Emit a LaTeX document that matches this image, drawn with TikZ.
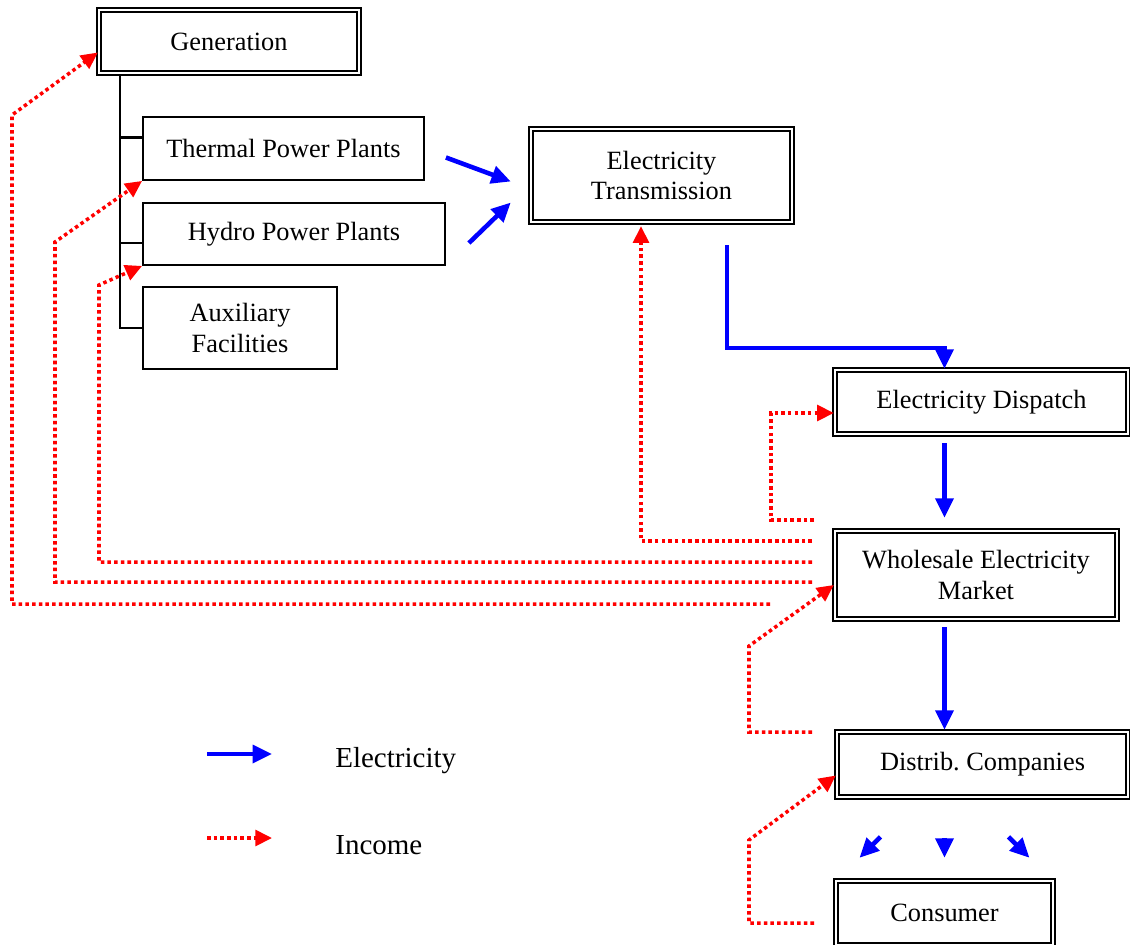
\documentclass[tikz,border=0pt]{standalone}
\usepackage{fontspec}
\setmainfont{Liberation Serif}
\usetikzlibrary{positioning,arrows.meta,calc}

\tikzset{
  box/.style={draw, line width=1.1pt, align=center, inner sep=2pt, font=\fontsize{15}{17.5}\selectfont},
  dbox/.style={box, double, line width=1.4pt, double distance=1pt},
  elec/.style={draw=blue, line width=2.6pt, -{Triangle[length=11pt,width=10pt]}},
  income/.style={draw=red, line width=2pt, dash pattern=on 2pt off 1.8pt, -{Triangle[length=9.5pt,width=9pt]}},
  tree/.style={line width=1.2pt},
  legend/.style={anchor=west, inner sep=0pt, font=\fontsize{16.5}{19}\selectfont}
}

\begin{document}
\begin{tikzpicture}[x=0.02cm,y=-0.02cm]
\useasboundingbox (0,0) rectangle (1130,944);
% boxes
\node[dbox, minimum width=5.2cm, minimum height=1.26cm] (gen) at (229,41.5) {Generation};
\node[box, minimum width=5.62cm, minimum height=1.26cm] (thermal) at (283.5,148.5) {Thermal Power Plants};
\node[box, minimum width=6.04cm, minimum height=1.24cm] (hydro) at (294,234) {Hydro Power Plants};
\node[box, minimum width=3.88cm, minimum height=1.64cm] (aux) at (240,328) {Auxiliary\\Facilities};
\node[dbox, minimum width=5.22cm, minimum height=1.86cm] (trans) at (661.5,175.5) {Electricity\\Transmission};
\node[dbox, minimum width=5.86cm, minimum height=1.28cm] (disp) at (981.5,402) {Electricity Dispatch};
\node[dbox, minimum width=5.64cm, minimum height=1.76cm] (whole) at (976,575) {Wholesale Electricity\\Market};
\node[dbox, minimum width=5.82cm, minimum height=1.30cm] (dist) at (982.5,764.5) {Distrib.\ Companies};
\node[dbox, minimum width=4.34cm, minimum height=1.28cm] (cons) at (944.5,913) {Consumer};

% generation tree
\draw[tree] ($(gen.south west)+(22,0)$) coordinate (tr) -- (tr |- aux.west) -- (aux.west);
\draw[tree] ($(thermal.west)+(0,-11)$) -- +(-21,0);
\draw[tree] ($(hydro.west)+(0,9)$) -- +(-21,0);

% electricity
\draw[elec] ($(thermal.east)+(21,9)$) -- ($(trans.west)+(-19,6)$);
\draw[elec] ($(hydro.east)+(23,9)$) -- ($(trans.west)+(-19,27)$);
\draw[elec] ($(trans.south)+(65.5,22)$) |- ($(disp.north -| cons)+(0,-21)$) -- (disp.north -| cons);
\draw[elec] ($(disp.south -| cons)+(0,8)$) -- ($(whole.north -| cons)+(0,-12)$);
\draw[elec] ($(whole.south -| cons)+(0,7)$) -- ($(dist.north -| cons)+(0,-1)$);
\draw[elec] ($(cons.north)+(-64,-43)$) -- ++(-21,21);
\draw[elec] ($(cons.north)+(0,-42)$) -- ++(0,20);
\draw[elec] ($(cons.north)+(64,-43)$) -- ++(21,21);

% income
\coordinate (i1) at (814,520);
\coordinate (i2) at (812,541);
\coordinate (i3) at (812,562);
\coordinate (i4) at (812,582);
\coordinate (i5) at (770,604);
\coordinate (i6) at (812,732);
\coordinate (i7) at (814,923);
\draw[income] (i1) -| (771,413) -- ($(disp.west)+(0,11)$);
\draw[income] (i2) -| ($(trans.south)+(-20.5,3)$);
\draw[income] (i3) -- (99,562) -- (99,285) -- (hydro.south west);
\draw[income] (i4) -- (55,582) -- (55,242) -- (thermal.south west);
\draw[income] (i5) -- (12,604) -- (12,115) -- ($(gen.west)+(0,11)$);
\draw[income] (i6) -- (749,732) -- (749,646) -- ($(whole.west)+(0,10)$);
\draw[income] (i7) -- (749,923) -- (749,840) -- ($(dist.west)+(0,11)$);

% legend
\coordinate (le0) at (207,754);
\coordinate (le1) at (272,754);
\coordinate (li0) at (207,838);
\coordinate (li1) at (272,838);
\draw[elec] (le0) -- (le1);
\draw[income] (li0) -- (li1);
\node[legend] (lelec) at (335,761) {Electricity};
\node[legend] (linc) at (335,845) {Income};
\end{tikzpicture}
\end{document}
